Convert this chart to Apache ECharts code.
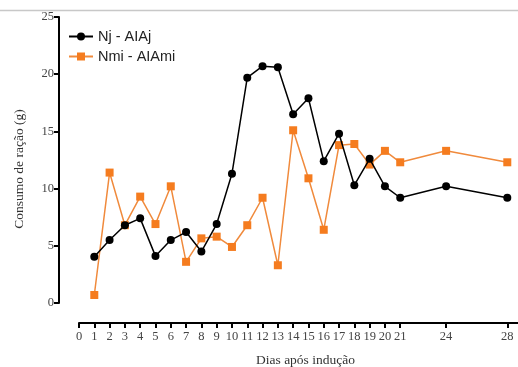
<!DOCTYPE html>
<html>
<head>
<meta charset="utf-8">
<script src="https://cdn.jsdelivr.net/npm/echarts@6/dist/echarts.min.js"></script>
<style>
html,body{margin:0;padding:0;background:#fff;}
#c{width:518px;height:367px;}
</style>
</head>
<body>
<div id="c"></div>
<script>
const days = [1,2,3,4,5,6,7,8,9,10,11,12,13,14,15,16,17,18,19,20,21,24,28];
const njAIAj = [4.05,5.5,6.8,7.4,4.1,5.5,6.2,4.5,6.9,11.3,19.7,20.7,20.6,16.5,17.9,12.4,14.8,10.3,12.6,10.2,9.2,10.2,9.2];
const nmiAIAmi = [0.7,11.4,6.8,9.3,6.9,10.2,3.6,5.65,5.8,4.9,6.8,9.2,3.3,15.1,10.9,6.4,13.8,13.9,12.1,13.3,12.3,13.3,12.3];
const xTicks = [0,1,2,3,4,5,6,7,8,9,10,11,12,13,14,15,16,17,18,19,20,21,24,28];
const yTicks = [0,5,10,15,20,25];

const chart = echarts.init(document.getElementById('c'), null, {renderer:'canvas'});
const serif = 'Liberation Serif';
chart.setOption({
  animation:false,
  backgroundColor:'#fff',
  graphic:[{type:'line',shape:{x1:0,y1:10.5,x2:518,y2:10.5},style:{stroke:'#c8c8c8',lineWidth:1.5}}],
  legend:{
    orient:'vertical', left:63, top:24, itemGap:5, itemWidth:24, itemHeight:10,
    textStyle:{fontFamily:'Liberation Sans', fontSize:14.5, color:'#222'},
    data:['Nj - AIAj','Nmi - AIAmi']
  },
  grid:{left:79, right:0, top:17, bottom:64, containLabel:false, outerBoundsMode:'none'},
  xAxis:{
    type:'value', min:0, max:28.7, offset:20,
    name:'Dias após indução', nameLocation:'middle', nameGap:30,
    nameTextStyle:{fontFamily:serif, fontSize:13.5, color:'#333', padding:[0,0,0,14]},
    axisLine:{onZero:false, lineStyle:{color:'#000', width:2}},
    axisTick:{customValues:xTicks, length:5, lineStyle:{color:'#000', width:2}},
    axisLabel:{customValues:xTicks, fontFamily:serif, fontSize:12.5, color:'#444', margin:7},
    splitLine:{show:false}
  },
  yAxis:{
    type:'value', min:0, max:25, interval:5, offset:20,
    name:'Consumo de ração (g)', nameLocation:'middle', nameGap:33,
    nameTextStyle:{fontFamily:serif, fontSize:13.5, color:'#333', padding:[0,18,0,0]},
    axisLine:{show:true, onZero:false, lineStyle:{color:'#000', width:2}},
    axisTick:{show:true, length:5, lineStyle:{color:'#000', width:2}},
    axisLabel:{fontFamily:serif, fontSize:12.5, color:'#444', margin:5},
    splitLine:{show:false}
  },
  series:[
    {name:'Nj - AIAj', type:'line', data:days.map((d,i)=>[d,njAIAj[i]]),
     symbol:'circle', symbolSize:8, itemStyle:{color:'#000'}, lineStyle:{color:'#000', width:1.5}, z:3},
    {name:'Nmi - AIAmi', type:'line', data:days.map((d,i)=>[d,nmiAIAmi[i]]),
     symbol:'rect', symbolSize:8, itemStyle:{color:'#f57c1f'}, lineStyle:{color:'#f08a3c', width:1.5}, z:2}
  ]
});
</script>
</body>
</html>
